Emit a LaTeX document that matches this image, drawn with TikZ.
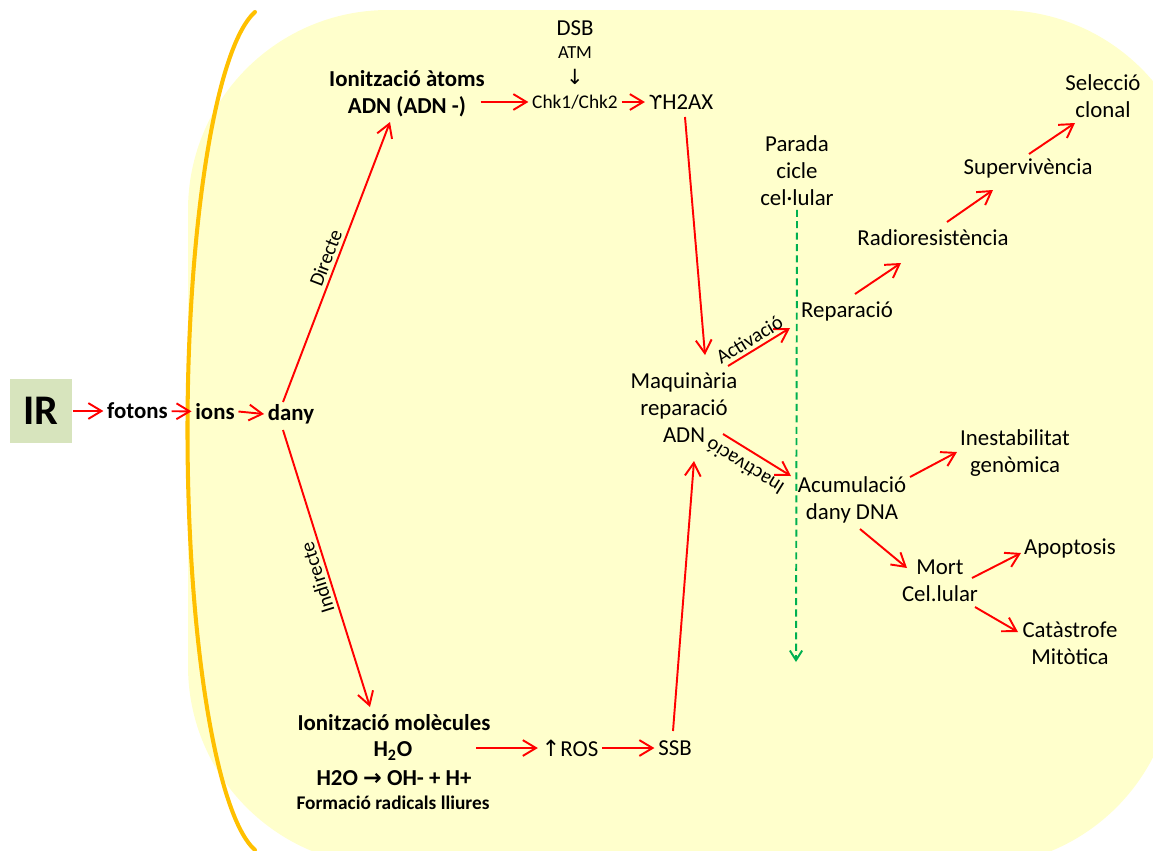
\documentclass[tikz,border=0pt]{standalone}
\usepackage{fontspec}
\setmainfont{Carlito}
\newfontfamily\symfont{DejaVu Sans}[Scale=0.85]
\usetikzlibrary{arrows.meta, calc}

\definecolor{CellColor}{RGB}{255,255,204}
\definecolor{MembraneColor}{RGB}{255,192,0}
\definecolor{SourceColor}{RGB}{215,228,189}
\definecolor{DamageColor}{RGB}{255,0,0}
\definecolor{ArrestColor}{RGB}{0,176,80}

\tikzset{
  txt/.style={font=\fontsize{13}{15.3}\selectfont, align=center, inner sep=2pt},
  bold txt/.style={txt, font=\fontsize{13}{15.3}\selectfont\bfseries},
  note txt/.style={txt, font=\fontsize{10.5}{12}\selectfont},
  path lbl/.style={text=black, font=\fontsize{11.5}{13}\selectfont, inner sep=2pt},
  source/.style={fill=SourceColor, minimum width=1.26cm, minimum height=1.28cm, inner sep=0pt,
    font=\fontsize{24}{24}\selectfont\bfseries},
  damage arrow/.style={DamageColor, line width=1.1pt, -{Straight Barb[length=7.5pt, width=9pt]}},
  arrest line/.style={ArrestColor, line width=1.1pt, dash pattern=on 4pt off 2.5pt,
    -{Straight Barb[length=5.5pt, width=7pt]}}
}

\begin{document}
\begin{tikzpicture}[x=0.02cm, y=-0.02cm]
  \useasboundingbox (0,0) rectangle (1153,850);
  \clip (0,0) rectangle (1153,850);

  % cell body and membrane
  \fill[CellColor] (188,210) arc (180:270:200) -- (1000,10) arc (270:360:200)
    -- (1175,666) arc (0:90:200) -- (388,866) arc (90:180:200) -- cycle;
  \draw[MembraneColor, line width=2.3pt, line cap=round] (255,12) arc (260.4:99.6:81 and 425);

  % radiation input
  \node[source] (ir) at (41,411) {IR};
  \node[bold txt] (fotons) at (137.5,411) {fotons};
  \node[bold txt] (ions) at (215,411.5) {ions};
  \node[bold txt] (dany) at (291,414) {dany};

  % direct branch
  \node[bold txt] (atoms) at (407,94) {Ionització àtoms\\ADN (ADN -)};
  \node[txt] (dsb) at (575,28) {DSB};
  \node[note txt] (atm) at (575,53) {ATM};
  \node[note txt, font=\fontsize{14}{14}\selectfont] (atm arrow) at (575,77) {\symfont ↓};
  \node[txt, font=\fontsize{11}{13}\selectfont] (chk) at (575,102) {Chk1/Chk2};
  \node[txt] (gh2ax) at (681,102) {{\symfont ϒ}H2AX};

  % indirect branch
  \node[bold txt] (mol) at (394,723) {Ionització molècules};
  \node[bold txt] (water) at (393,751) {H\textsubscript{2}O};
  \node[bold txt] (split) at (394,778) {H2O {\symfont\bfseries\fontsize{15}{15}\selectfont →} OH- + H+};
  \node[bold txt, font=\fontsize{11}{13}\selectfont\bfseries] (radicals) at (393,803) {Formació radicals lliures};
  \node[txt] (ros) at (570,748) {{\symfont\fontsize{15}{15}\selectfont ↑}ROS};
  \node[txt] (ssb) at (675,748) {SSB};

  % repair and outcomes
  \node[txt] (maq) at (684,408) {Maquinària\\reparació\\ADN};
  \node[txt] (arrest) at (797,171) {Parada\\cicle\\cel·lular};
  \node[txt] (rep) at (847,311) {Reparació};
  \node[txt] (radio) at (933,238) {Radioresistència};
  \node[txt] (surv) at (1028,168) {Supervivència};
  \node[txt] (clonal) at (1103,96) {Selecció\\clonal};
  \node[txt] (acum) at (852,500) {Acumulació\\dany DNA};
  \node[txt] (inest) at (1015,453) {Inestabilitat\\genòmica};
  \node[txt] (mort) at (940,581) {Mort\\Cel.lular};
  \node[txt] (apop) at (1070,548) {Apoptosis};
  \node[txt] (cat) at (1070,643) {Catàstrofe\\Mitòtica};
  \coordinate (arrest end) at (796,662);

  % connectors
  \draw[damage arrow] (ir) -- (fotons);
  \draw[damage arrow] (fotons) -- (ions);
  \draw[damage arrow] (ions.east) -- (dany.west);
  \draw[damage arrow] ($(dany)+(-8,-12)$) -- node[path lbl, sloped, above, pos=.5] {Directe} ($(atoms)+(-17,28)$);
  \draw[damage arrow] ($(dany)+(-8,16)$) -- node[path lbl, rotate=107.6, anchor=south, pos=.52] {Indirecte} ($(mol)+(-24,-16)$);
  \draw[damage arrow] ($(atoms.east |- chk)+(-8,0)$) -- (chk.west);
  \draw[damage arrow] (chk) -- (gh2ax);
  \draw[damage arrow] ($(gh2ax)+(4,15)$) -- ($(maq)+(21,-53)$);
  \draw[damage arrow] ($(mol.east |- ros)+(-18,0)$) -- (ros.west);
  \draw[damage arrow] (ros) -- (ssb);
  \draw[damage arrow] ($(ssb)+(-2,-17)$) -- ($(maq)+(10,53)$);
  \draw[damage arrow] ($(maq)+(44,-42)$) -- node[path lbl, sloped, above, pos=.44] {Activació} ($(rep)+(-57,17)$);
  \draw[damage arrow] ($(maq)+(39,26)$) -- node[path lbl, rotate=148.3, anchor=south, inner sep=5pt, pos=.45] {Inactivació} ($(acum)+(-61,-24)$);
  \draw[damage arrow] ($(rep)+(8,-17)$) -- ($(radio)+(-32,25)$);
  \draw[damage arrow] ($(radio)+(14,-16)$) -- ($(surv)+(-35,22)$);
  \draw[damage arrow] ($(surv)+(1,-14)$) -- ($(clonal)+(-28,27)$);
  \draw[damage arrow] ($(acum)+(58,-23)$) -- ($(inest)+(-58,-1)$);
  \draw[damage arrow] ($(acum)+(8,29)$) -- ($(mort)+(-33,-13)$);
  \draw[damage arrow] ($(mort)+(32,-3)$) -- ($(apop)+(-49,5)$);
  \draw[damage arrow] ($(mort)+(35,26)$) -- ($(cat)+(-52,-11)$);
  \draw[arrest line] (arrest.south) -- (arrest end);
\end{tikzpicture}
\end{document}
